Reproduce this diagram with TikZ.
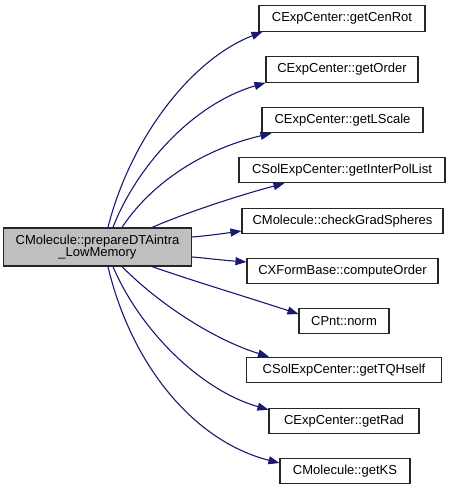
\documentclass[tikz,border=0pt]{standalone}
\usepackage{fontspec}
\setmainfont{Liberation Sans}
\usetikzlibrary{arrows.meta,calc}
\definecolor{edgeblue}{HTML}{191970}
\definecolor{maingray}{HTML}{BFBFBF}
\tikzset{
  fnode/.style={draw=black!85, line width=1.1pt, fill=white, inner sep=0pt,
    minimum height=25.5pt, font=\fontsize{13}{13}\selectfont},
  mainnode/.style={fnode, fill=maingray, align=center, minimum height=38pt,
    font=\fontsize{13}{12.5}\selectfont},
  callarrow/.style={draw=edgeblue, line width=1.1pt, -{Triangle[length=11pt,width=8pt]}}
}
\begin{document}
\begin{tikzpicture}[x=1pt,y=-1pt]
\useasboundingbox (0,0) rectangle (451,493);
\node[mainnode, minimum width=188pt] (main) at (97.5,247) {CMolecule::prepareDTAintra\\\_LowMemory};
\node[fnode, minimum width=166pt] (n1) at (342,18.5) {CExpCenter::getCenRot};
\node[fnode, minimum width=152pt] (n2) at (342,69.5) {CExpCenter::getOrder};
\node[fnode, minimum width=161pt] (n3) at (342.5,120) {CExpCenter::getLScale};
\node[fnode, minimum width=206pt] (n4) at (342,170) {CSolExpCenter::getInterPolList};
\node[fnode, minimum width=201pt] (n5) at (342.5,221) {CMolecule::checkGradSpheres};
\node[fnode, minimum width=191pt] (n6) at (342.5,271) {CXFormBase::computeOrder};
\node[fnode, minimum width=90pt] (n7) at (344,321) {CPnt::norm};
\node[fnode, minimum width=195pt] (n8) at (344,370) {CSolExpCenter::getTQHself};
\node[fnode, minimum width=150pt] (n9) at (344,421) {CExpCenter::getRad};
\node[fnode, minimum width=130pt] (n10) at (345,471) {CMolecule::getKS};

\draw[callarrow] ($(main.north west)+(105,0)$) .. controls (130,140) and (190,60) .. ($(n1.south west)+(4,0)$);
\draw[callarrow] ($(main.north west)+(110,0)$) .. controls (135,170) and (190,105) .. (n2.south west);
\draw[callarrow] ($(main.north west)+(119,0)$) .. controls (150,185) and (200,150) .. ($(n3.south west)+(10,0)$);
\draw[callarrow] ($(main.north west)+(149,0)$) .. controls (185,213) and (240,195) .. ($(n4.south west)+(46,0)$);
\draw[callarrow] ($(main.east)+(0,-10)$) .. controls (205,236) and (220,234) .. ($(n5.west)+(0,10)$);
\draw[callarrow] ($(main.east)+(0,10)$) .. controls (205,258) and (220,260) .. ($(n6.west)+(0,-9)$);
\draw[callarrow] ($(main.south west)+(149,0)$) .. controls (190,280) and (250,298) .. ($(n7.west)+(0,-7)$);
\draw[callarrow] ($(main.south west)+(119,0)$) .. controls (160,305) and (215,340) .. ($(n8.north west)+(23,0)$);
\draw[callarrow] ($(main.south west)+(110,0)$) .. controls (140,330) and (200,390) .. ($(n9.north west)+(0,2)$);
\draw[callarrow] ($(main.south west)+(105,0)$) .. controls (130,360) and (190,440) .. ($(n10.west)+(0,-8)$);
\end{tikzpicture}
\end{document}
